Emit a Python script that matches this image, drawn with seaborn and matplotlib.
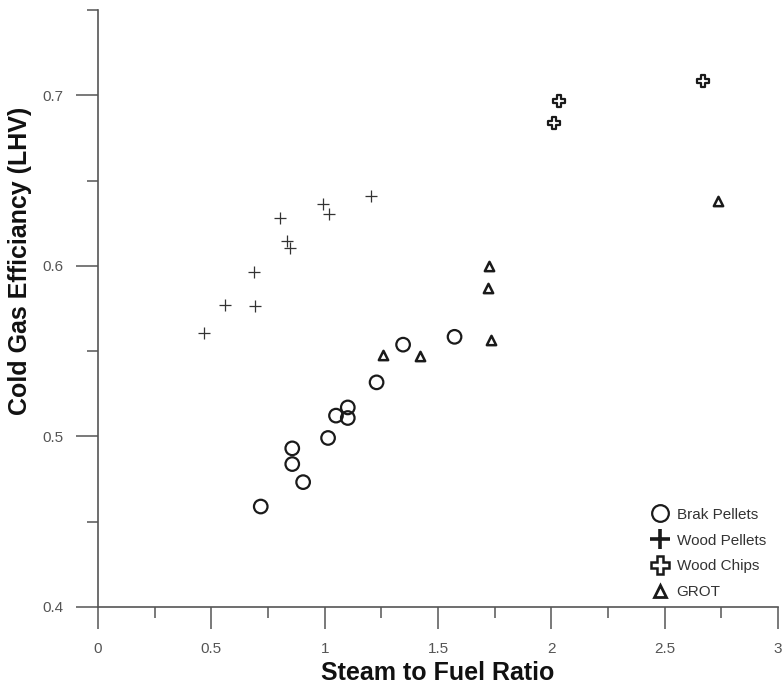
import numpy as np
import pandas as pd
import matplotlib
matplotlib.use('Agg')
import matplotlib.pyplot as plt
import seaborn as sns
from matplotlib.lines import Line2D
from matplotlib.ticker import MultipleLocator

# Values
brak_x = [0.718, 0.857, 0.857, 0.905, 1.015, 1.050, 1.102, 1.102, 1.229, 1.346, 1.573]
brak_y = [0.4589, 0.4930, 0.4838, 0.4732, 0.4991, 0.5122, 0.5170, 0.5108, 0.5317, 0.5538, 0.5584]

wood_pellets_x = [0.469, 0.561, 0.693, 0.690, 0.801, 0.835, 0.849, 0.991, 1.018, 1.203]
wood_pellets_y = [0.5609, 0.5773, 0.5767, 0.5963, 0.6278, 0.6145, 0.6106, 0.6360, 0.6304, 0.6410]

wood_chips_x = [2.012, 2.036, 2.670]
wood_chips_y = [0.6840, 0.6967, 0.7085]

grot_x = [1.259, 1.420, 1.719, 1.723, 1.734, 2.735]
grot_y = [0.5480, 0.5474, 0.5871, 0.6002, 0.5564, 0.6380]

groups = ['Brak Pellets', 'Wood Pellets', 'Wood Chips', 'GROT']

df = pd.concat([
    pd.DataFrame({'ratio': brak_x, 'cge': brak_y, 'fuel': 'Brak Pellets'}),
    pd.DataFrame({'ratio': wood_pellets_x, 'cge': wood_pellets_y, 'fuel': 'Wood Pellets'}),
    pd.DataFrame({'ratio': wood_chips_x, 'cge': wood_chips_y, 'fuel': 'Wood Chips'}),
    pd.DataFrame({'ratio': grot_x, 'cge': grot_y, 'fuel': 'GROT'}),
])

sns.set_style('white')
plt.rcParams['font.family'] = ['Liberation Sans', 'DejaVu Sans']

fig = plt.figure(figsize=(7.83, 6.87), dpi=100)
ax = fig.add_axes([98 / 783, 1 - 607 / 687, 680 / 783, 597 / 687])

ink = '#1a1a1a'
axis_col = '#555555'

# Brak pellets - open circles
sns.scatterplot(data=df[df.fuel == 'Brak Pellets'], x='ratio', y='cge', ax=ax,
                marker='o', s=95, facecolor='none', edgecolor=ink, linewidth=1.6, legend=False)
# Wood pellets - thin plus
sns.scatterplot(data=df[df.fuel == 'Wood Pellets'], x='ratio', y='cge', ax=ax,
                marker='+', s=70, color='#333333', linewidth=0.9, legend=False)
# Wood chips - outlined filled plus
sns.scatterplot(data=df[df.fuel == 'Wood Chips'], x='ratio', y='cge', ax=ax,
                marker='P', s=80, facecolor='white', edgecolor=ink, linewidth=1.6, legend=False)
# GROT - open triangles
sns.scatterplot(data=df[df.fuel == 'GROT'], x='ratio', y='cge', ax=ax,
                marker='^', s=45, facecolor='white', edgecolor=ink, linewidth=1.8, legend=False)

ax.set_xlim(0, 3)
ax.set_ylim(0.4, 0.75)
ax.xaxis.set_minor_locator(MultipleLocator(0.25))
ax.yaxis.set_minor_locator(MultipleLocator(0.05))
ax.set_xticks([0, 0.5, 1, 1.5, 2, 2.5, 3])
ax.set_xticklabels(['0', '0.5', '1', '1.5', '2', '2.5', '3'])
ax.set_yticks([0.4, 0.5, 0.6, 0.7])
ax.set_yticklabels(['0.4', '0.5', '0.6', '0.7'])

for side in ['top', 'right']:
    ax.spines[side].set_visible(False)
for side in ['left', 'bottom']:
    ax.spines[side].set_color(axis_col)
    ax.spines[side].set_linewidth(1.2)

ax.tick_params(which='major', direction='out', length=16, width=1.1, color=axis_col,
               labelsize=11, labelcolor='#555555', pad=9, left=True, bottom=True)
ax.tick_params(which='minor', direction='out', length=8, width=1.1, color=axis_col,
               left=True, bottom=True)

ax.set_xlabel('Steam to Fuel Ratio', fontsize=18, fontweight='bold', color='#111111', labelpad=4)
ax.set_ylabel('Cold Gas Efficiancy (LHV)', fontsize=18, fontweight='bold', color='#111111')
ax.yaxis.set_label_coords(-0.097, 0.58)

handles = [
    Line2D([], [], ls='none', marker='o', markersize=12, markerfacecolor='none',
           markeredgecolor=ink, markeredgewidth=1.6),
    Line2D([], [], ls='none', marker='+', markersize=15, color=ink, markeredgewidth=2.6),
    Line2D([], [], ls='none', marker='P', markersize=13, markerfacecolor='white',
           markeredgecolor=ink, markeredgewidth=1.8),
    Line2D([], [], ls='none', marker='^', markersize=9, markerfacecolor='white',
           markeredgecolor=ink, markeredgewidth=2.0),
]
leg = ax.legend(handles, groups, loc='upper left', bbox_to_anchor=(643 / 783, 1 - 500 / 687),
                bbox_transform=fig.transFigure, frameon=False, fontsize=11,
                handlelength=1.2, handletextpad=0.5, labelspacing=0.78, borderpad=0)
for t in leg.get_texts():
    t.set_color('#333333')

fig.savefig('out.png', dpi=100)
